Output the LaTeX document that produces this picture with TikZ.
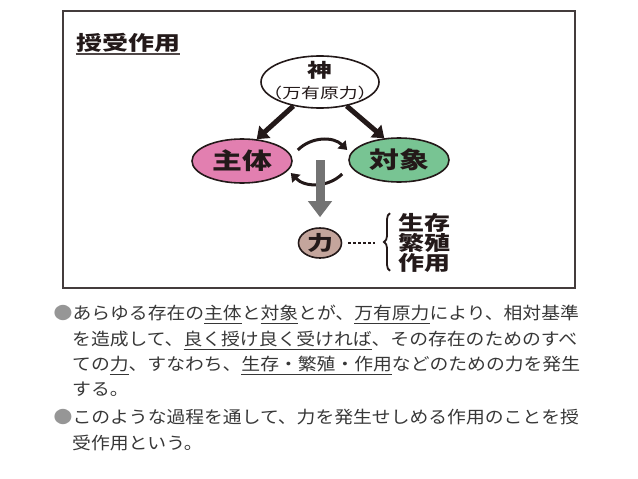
\documentclass[tikz,border=0pt]{standalone}
\usepackage{fontspec}
\usepackage{tikz}
\usepackage{xcolor}
\usetikzlibrary{arrows.meta,shapes.geometric,decorations.pathreplacing}
\setmainfont{Noto Sans CJK JP}[FakeStretch=1.1]
\newfontfamily\zufont{Noto Sans CJK JP}[FakeStretch=1.3]
\definecolor{shutai-pink}{RGB}{226,127,176}
\definecolor{taisho-green}{RGB}{120,196,147}
\definecolor{chikara-brown}{RGB}{196,165,156}
\definecolor{ink}{RGB}{35,25,25}
\definecolor{power-gray}{RGB}{115,115,115}
\definecolor{body-gray}{RGB}{55,55,55}
\definecolor{bullet-gray}{RGB}{150,150,150}
\newcommand{\zu}[1]{\zufont\bfseries\fontsize{#1}{#1}\selectfont}
\newcommand{\sen}[1]{\setbox0\hbox{#1}\rlap{\rule[-4pt]{\wd0}{1pt}}\box0}
\tikzset{
    bubble/.style = {ellipse, draw=ink, line width=1.6pt, inner sep=0pt, text=ink},
    zu-text/.style = {inner sep=0pt, text=ink},
    god-arrow/.style = {draw=ink, line width=5pt, -{Triangle[length=11pt,width=16pt]}},
    swap-arrow/.style = {draw=ink, line width=3pt, -{Triangle[length=8pt,width=11pt]}, bend left=45},
    power-arrow/.style = {draw=power-gray, line width=9pt, -{Triangle[length=16pt,width=23pt]}, shorten >=10pt},
    dot-line/.style = {draw=ink, line width=2.8pt, dash pattern=on 2.6pt off 2.4pt},
    list-brace/.style = {draw=ink, line width=1.8pt, decorate, decoration={brace, amplitude=6pt}},
    body-line/.style = {anchor=base west, inner sep=0pt, text=body-gray, font=\fontsize{17.1}{20}\selectfont},
}

\begin{document}
\begin{tikzpicture}[x=1pt, y=-1pt]
\useasboundingbox (0,0) rectangle (638,479);
\draw [draw=ink!85, line width=1.8pt] (63,11) rectangle (575,288);

\node [zu-text, font=\zu{20}] (title) at (128,42.5) {授受作用};
\draw [draw=ink!80, line width=1.8pt] ([yshift=-2pt]title.south west) -- ([yshift=-2pt]title.south east);

\node [bubble, fill=white, minimum width=118pt, minimum height=52pt] (kami) at (320,82) {};
\node [zu-text, font=\zu{19}] (kami-name) at (320,70) {神};
\node [zu-text, font=\zufont\fontsize{14.5}{15}\selectfont] (kami-sub) at (320,93) {（万有原力）};

\node [bubble, fill=shutai-pink, minimum width=100pt, minimum height=44pt, font=\zu{23}] (shutai) at (242,161) {主体};
\node [bubble, fill=taisho-green, minimum width=100pt, minimum height=44pt, font=\zu{23}] (taisho) at (399,160) {対象};
\node [bubble, fill=chikara-brown, minimum width=43pt, minimum height=30pt, font=\zu{20}] (chikara) at (320,243) {力};
\node [zu-text, anchor=west, align=left, font=\zu{20}] (kinou) at (398,243) {生存\\繁殖\\作用};

\draw [god-arrow] (kami.222) -- (shutai.56);
\draw [god-arrow] (kami.318) -- (taisho.124);
\draw [swap-arrow] ([shift={(5,-11)}]shutai.east) to ([shift={(-1,-10)}]taisho.west);
\draw [swap-arrow] ([shift={(-6,14)}]taisho.west) to ([shift={(-2,12)}]shutai.east);

\coordinate (split) at (320,160);
\draw [power-arrow] (split) -- (split |- chikara.north);
\draw [dot-line] ([xshift=6pt]chikara.east) -- ([xshift=-23pt]kinou.west);
\draw [list-brace] ([xshift=-8pt,yshift=2pt]kinou.south west) -- ([xshift=-8pt]kinou.north west);

% explanation
\node [body-line] (para1-a) at (53.5,319.5) {{\color{bullet-gray}●}あらゆる存在の\sen{主体}と\sen{対象}とが、\sen{万有原力}により、相対基準};
\node [body-line] (para1-b) at (72,345.5) {を造成して、\sen{良く授け}\sen{良く受ければ}、その存在のためのすべ};
\node [body-line] (para1-c) at (72,370.5) {ての\sen{力}、すなわち、\sen{生存・繁殖・作用}などのための力を発生};
\node [body-line] (para1-d) at (72,395.5) {する。};
\node [body-line] (para2-a) at (53.5,423.5) {{\color{bullet-gray}●}このような過程を通して、力を発生せしめる作用のことを授};
\node [body-line] (para2-b) at (72,449.5) {受作用という。};
\end{tikzpicture}
\end{document}
